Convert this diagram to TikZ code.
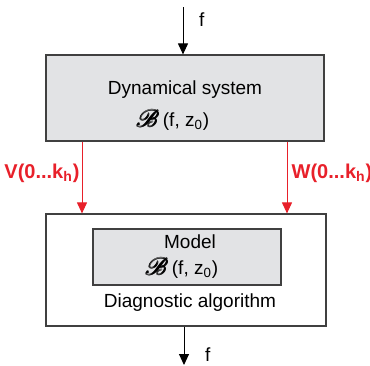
\documentclass[tikz,border=0pt]{standalone}
\usepackage{fontspec}
\setmainfont{Liberation Sans}
\usepackage{mathrsfs}
\usepackage{amsmath}
\usetikzlibrary{arrows.meta}
\definecolor{boxgray}{HTML}{E2E3E5}
\definecolor{sigred}{HTML}{E8202A}
\tikzset{
  block/.style={draw=black!75, line width=0.6pt, inner sep=0pt},
  flow/.style={-{Triangle[width=5pt,length=5.5pt]}, line width=0.5pt},
  sigflow/.style={flow, draw=sigred, fill=sigred},
  siglbl/.style={text=sigred, font=\bfseries},
}
\newcommand{\beh}{\raisebox{-0.5pt}{\scalebox{1.35}{$\pmb{\mathscr{B}}$}}\,(f, z\textsubscript{0})}
\begin{document}
\begin{tikzpicture}[x=0.5pt, y=-0.5pt, font=\fontsize{9.5}{11}\selectfont]
  \useasboundingbox (0,0) rectangle (370,365);
  % blocks
  \node[block, fill=boxgray, minimum width=139pt, minimum height=43pt] (sys) at (185,98) {};
  \node[block, fill=white, minimum width=140pt, minimum height=56pt] (diag) at (186,270) {};
  \node[block, fill=boxgray, minimum width=94pt, minimum height=28pt] (model) at (187,257) {};
  \node (syslbl) at (185,90) {Dynamical system};
  \node (sysbeh) at (173,120) {\beh};
  \node (modlbl) at (190,242) {Model};
  \node (modbeh) at (182,268) {\beh};
  \node (diaglbl) at (190,303) {Diagnostic algorithm};
  % input and output
  \coordinate (fin) at (183,7);
  \coordinate (fout) at (184,365);
  \draw[flow] (fin) -- (fin |- sys.north);
  \node[anchor=west] (finlbl) at (192,20) {f};
  \draw[flow] (diag.south -| fout) -- (fout);
  \node[anchor=west] (foutlbl) at (198,355) {f};
  % measured signals
  \coordinate (vx) at (82,0);
  \coordinate (wx) at (287,0);
  \draw[sigflow] (sys.south -| vx) -- (diag.north -| vx);
  \draw[sigflow] (sys.south -| wx) -- (diag.north -| wx);
  \node[siglbl] (vlbl) at (42,173) {V(0...k\textsubscript{h})};
  \node[siglbl] (wlbl) at (332,173) {W(0...k\textsubscript{h})};
\end{tikzpicture}
\end{document}
